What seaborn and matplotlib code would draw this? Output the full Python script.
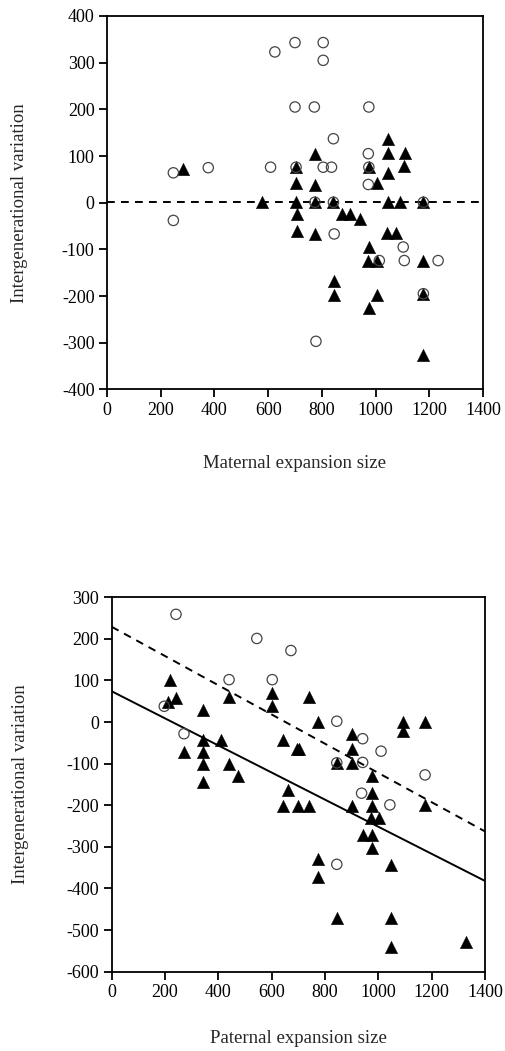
import numpy as np
import pandas as pd
import matplotlib
matplotlib.use("Agg")
import matplotlib.pyplot as plt
import seaborn as sns

# ---------------- data: top panel (maternal) ----------------
mat_circle_x = [247, 247, 377, 609, 625, 700, 700, 704, 772, 805, 805, 805, 836, 843,
                774, 843, 846, 973, 975, 975, 973, 1014, 1103, 1107, 1178, 1178, 1233, 778]
mat_circle_y = [64, -38, 75, 76, 323, 343, 205, 76, 205, 343, 305, 76, 76, 137,
                1, 1, -67, 105, 205, 76, 39, -124, -95, -124, 1, -195, -124, -297]
mat_tri_x = [282, 578, 704, 704, 704, 706, 706, 774, 774, 774, 774, 843, 846, 846,
             874, 905, 942, 975, 975, 973, 975, 1004, 1006, 1006, 1047, 1047, 1047,
             1047, 1044, 1076, 1090, 1110, 1106, 1178, 1178, 1178, 1178]
mat_tri_y = [73, 1, 76, 42, 1, -25, -61, 104, 37, 1, -67, 1, -167, -197,
             -25, -25, -36, 76, -95, -125, -226, -197, 42, -125, 137, 106, 63,
             1, -64, -64, 1, 106, 78, 1, -125, -195, -326]
mat_line_dashed = (1, 0.0)      # (intercept, slope)

# ---------------- data: bottom panel (paternal) ----------------
pat_circle_x = [241, 544, 672, 440, 602, 197, 271, 844, 941, 1010, 844, 941, 1175, 937, 1043, 844]
pat_circle_y = [259, 201, 172, 102, 102, 38, -28, 2, -40, -70, -98, -97, -127, -171, -199, -342]
pat_tri_x = [219, 602, 440, 241, 212, 602, 344, 344, 409, 641, 694, 272, 344, 344, 440,
             472, 344, 662, 641, 697, 741, 740, 775, 1091, 1091, 1175, 900, 703, 900,
             844, 900, 975, 975, 902, 975, 1175, 972, 1003, 941, 975, 975, 775, 1046,
             775, 846, 1046, 1046, 1327]
pat_tri_y = [101, 70, 60, 58, 48, 38, 30, -42, -42, -42, -65, -72, -72, -100, -100,
             -129, -143, -163, -201, -201, -201, 60, 0, 0, -21, 0, -28, -64, -64,
             -98, -98, -129, -171, -201, -201, -199, -230, -230, -271, -271, -302, -330, -344,
             -372, -471, -471, -541, -529]
pat_line_solid = (74, -0.3257)
pat_line_dashed = (229, -0.3514)

x_ticks = [0, 200, 400, 600, 800, 1000, 1200, 1400]
top_yticks = [-400, -300, -200, -100, 0, 100, 200, 300, 400]
bot_yticks = [-600, -500, -400, -300, -200, -100, 0, 100, 200, 300]

sns.set_theme(style="white")
plt.rcParams['font.family'] = ['Liberation Serif', 'DejaVu Serif']

fig = plt.figure(figsize=(5.06, 10.51), dpi=100)
ax1 = fig.add_axes([0.2115, 0.6295, 0.743, 0.3553])
ax2 = fig.add_axes([0.2208, 0.0755, 0.7378, 0.3562])


def make_df(cx, cy, tx, ty):
    return pd.DataFrame({
        "x": list(cx) + list(tx),
        "y": list(cy) + list(ty),
        "g": ["c"] * len(cx) + ["t"] * len(tx),
    })


def draw(ax, df, lines, yticks, xlabel, xpad, ypad):
    dc = df[df.g == "c"]
    dt = df[df.g == "t"]
    sns.scatterplot(data=dt, x="x", y="y", marker="^", s=80, color="black",
                    edgecolor="black", linewidth=0.3, ax=ax, zorder=3)
    sns.scatterplot(data=dc, x="x", y="y", marker="o", s=55, facecolor="none",
                    edgecolor="#444444", linewidth=0.9, ax=ax, zorder=4)
    xs = np.array([0, 1400])
    for (b, m), ls in lines:
        sns.lineplot(x=xs, y=b + m * xs, ax=ax, color="black", linewidth=1.4,
                     linestyle=ls, zorder=2)
        if ls == "--":
            ax.lines[-1].set_dashes((4, 3.2))
    ax.set_xlim(0, 1400)
    ax.set_ylim(yticks[0], yticks[-1])
    ax.set_xticks(x_ticks)
    ax.set_yticks(yticks)
    ax.set_xticklabels([str(v) for v in x_ticks])
    ax.set_yticklabels([str(v) for v in yticks])
    ax.tick_params(direction="out", length=6, width=1.3, labelsize=13, pad=3,
                   bottom=True, left=True, colors="black")
    for sp in ax.spines.values():
        sp.set_visible(True)
        sp.set_color("black")
        sp.set_linewidth(1.3)
    ax.set_xlabel(xlabel, fontsize=13.5, labelpad=xpad)
    ax.set_ylabel("Intergenerational variation", fontsize=13.5, labelpad=ypad)


draw(ax1, make_df(mat_circle_x, mat_circle_y, mat_tri_x, mat_tri_y),
     [(mat_line_dashed, "--")], top_yticks, "Maternal expansion size", 26, 24)
draw(ax2, make_df(pat_circle_x, pat_circle_y, pat_tri_x, pat_tri_y),
     [(pat_line_solid, "-"), (pat_line_dashed, "--")], bot_yticks,
     "Paternal expansion size", 21, 27)

fig.savefig("out.png", dpi=100, facecolor="white")
